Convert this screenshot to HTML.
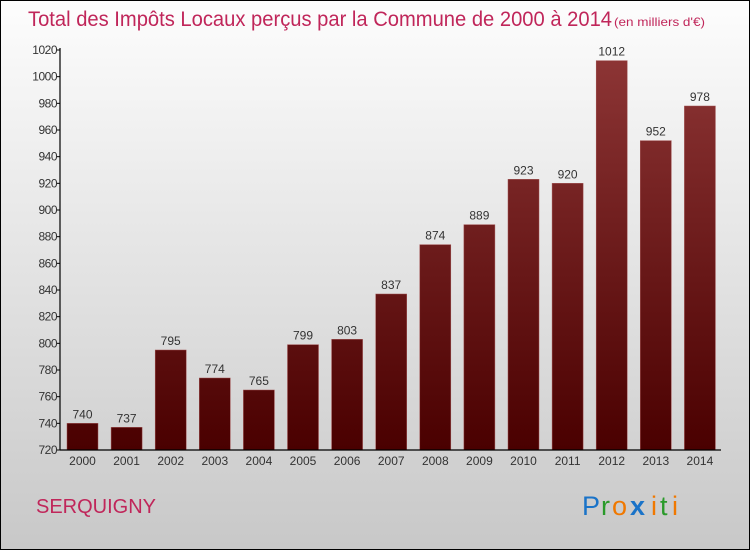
<!DOCTYPE html>
<html><head><meta charset="utf-8"><style>
body{margin:0;width:750px;height:550px;overflow:hidden;font-family:"Liberation Sans",sans-serif;}
svg{display:block}
</style></head><body>
<svg id="chart" width="750" height="550">
<defs>
<linearGradient id="bg" x1="0" y1="0" x2="0" y2="1"><stop offset="0" stop-color="#fdfdfd"/><stop offset="1" stop-color="#c8c8c8"/></linearGradient>
<linearGradient id="bar" gradientUnits="userSpaceOnUse" x1="0" y1="50" x2="0" y2="450"><stop offset="0" stop-color="#8e3636"/><stop offset="1" stop-color="#4a0000"/></linearGradient>
</defs>
<rect x="0.5" y="0.5" width="749" height="549" fill="url(#bg)" stroke="#000"/>
<text x="28" y="26" font-size="21" fill="#c0265a" textLength="584" lengthAdjust="spacingAndGlyphs">Total des Impôts Locaux perçus par la Commune de 2000 à 2014</text>
<text x="614" y="26" font-size="12" fill="#c0265a" textLength="91" lengthAdjust="spacingAndGlyphs">(en milliers d'€)</text>
<g id="plot"></g>
<text x="36" y="513" font-size="20" fill="#c0265a">SERQUIGNY</text>
<g font-size="27" font-family="'Liberation Sans',sans-serif">
<text x="582" y="515" fill="#1a73c8">P</text><text x="601" y="515" fill="#2a9a2a">r</text><text x="612" y="515" fill="#f07800">o</text><text x="630" y="515" fill="#1a73c8" font-weight="bold">x</text><text x="651" y="515" fill="#f07800">i</text><text x="660" y="515" fill="#2a9a2a">t</text><text x="672" y="515" fill="#f07800">i</text>
</g>
</svg>
<script>
const years=["2000","2001","2002","2003","2004","2005","2006","2007","2008","2009","2010","2011","2012","2013","2014"];
const values=[740,737,795,774,765,799,803,837,874,889,923,920,1012,952,978];
const yTicks=[720,740,760,780,800,820,840,860,880,900,920,940,960,980,1000,1020];
const NS="http://www.w3.org/2000/svg";
const g=document.getElementById('plot');
const y0=450,y1=50,vmin=720,vmax=1020,x0=60,x1=721;
const ys=v=>y0-(v-vmin)*(y0-y1)/(vmax-vmin);
const step=44.1,first=82.5,bw=31;
const xs=i=>first+i*step;
function el(t,a){const e=document.createElementNS(NS,t);for(const k in a)e.setAttribute(k,a[k]);g.appendChild(e);return e;}
values.forEach((v,i)=>{
 const r=el('rect',{x:xs(i)-bw/2,y:ys(v),width:bw,height:y0-ys(v),fill:'url(#bar)',stroke:'#a05050','stroke-width':0.5});
 
 
 const t=el('text',{x:xs(i),y:ys(v)-5,'text-anchor':'middle','font-size':12,fill:'#333'});
 t.textContent=v;
 
 
 const xl=el('text',{x:xs(i),y:465,'text-anchor':'middle','font-size':12,fill:'#333'});
 xl.textContent=years[i];
 
 
});
yTicks.forEach(v=>{
 const l=el('line',{x1:x0-3,x2:x0,y1:ys(v),y2:ys(v),stroke:'#000'});
 
 
 const t=el('text',{x:x0-3,y:ys(v)+4,'text-anchor':'end','font-size':12,fill:'#333','letter-spacing':'-0.5'});
 t.textContent=v;
 
 
});
const ya=el('line',{x1:x0,x2:x0,y1:y1-2,y2:y0,stroke:'#000','stroke-width':1.2});


const xa=el('line',{x1:x0,x2:x1,y1:y0,y2:y0,stroke:'#000','stroke-width':1.2});


</script>
</body></html>
